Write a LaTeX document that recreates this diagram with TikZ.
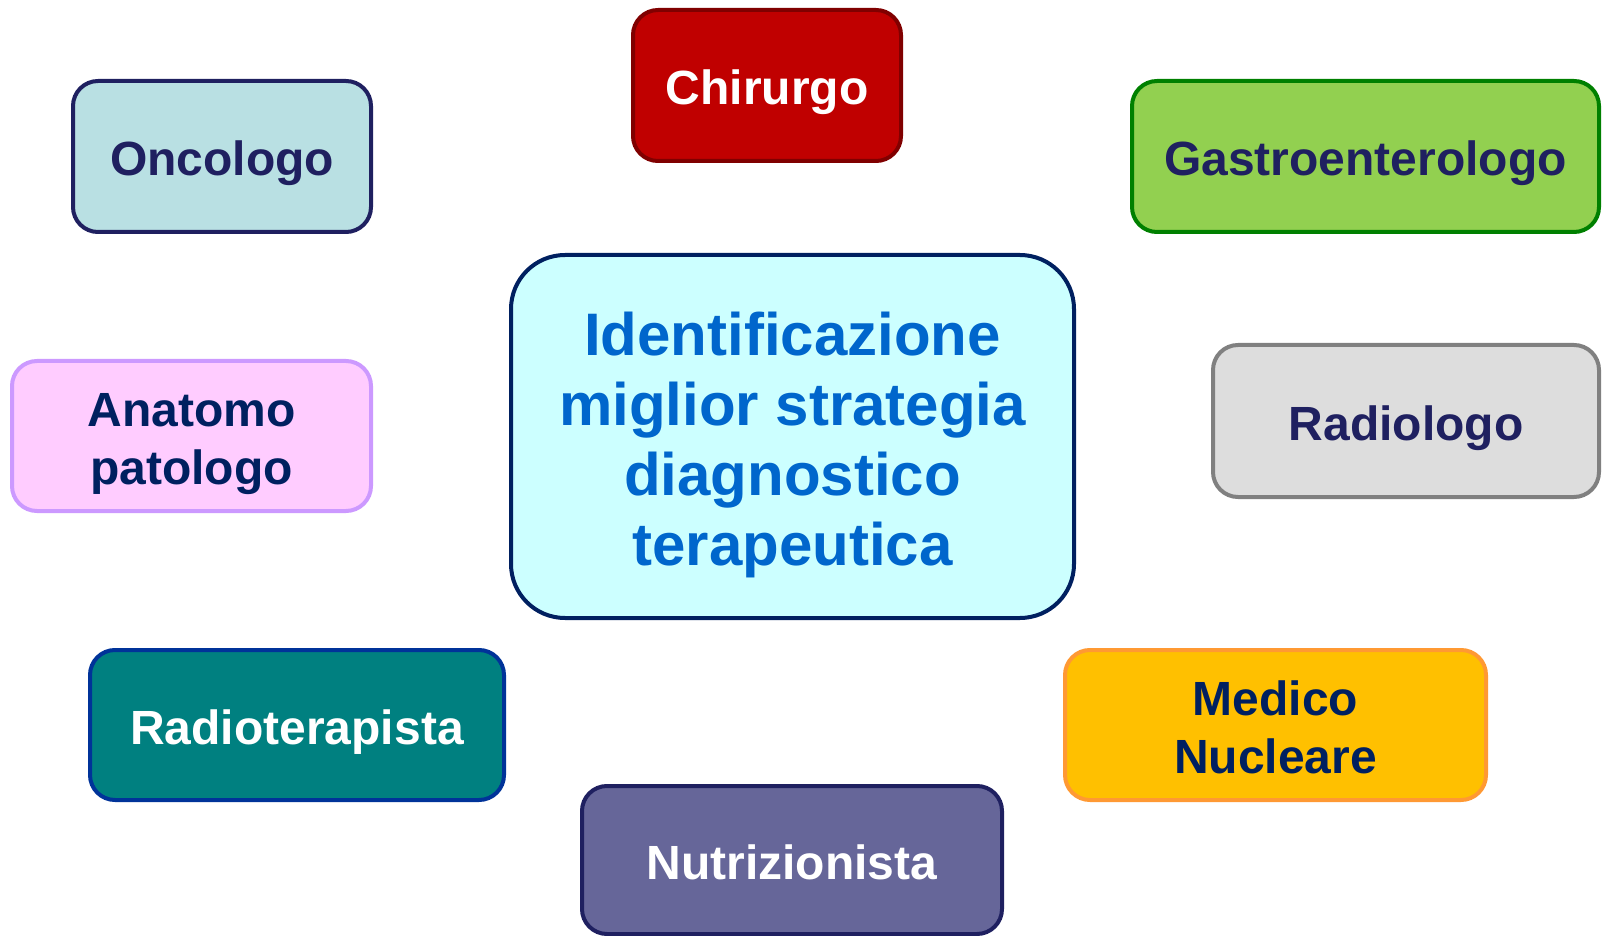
\documentclass[tikz,border=0pt]{standalone}
\usepackage{fontspec}
\setmainfont{Liberation Sans}
\definecolor{navy}{HTML}{1F2060}
\definecolor{darknavy}{HTML}{002060}
\definecolor{centreblue}{HTML}{0066CC}
\definecolor{centrefill}{HTML}{CCFFFF}
\definecolor{chirfill}{HTML}{C00000}
\definecolor{chirline}{HTML}{800000}
\definecolor{oncofill}{HTML}{B9E0E3}
\definecolor{gastrofill}{HTML}{92D050}
\definecolor{gastroline}{HTML}{008000}
\definecolor{anatfill}{HTML}{FFCCFF}
\definecolor{anatline}{HTML}{CC99FF}
\definecolor{radiofill}{HTML}{DDDDDD}
\definecolor{radioline}{HTML}{808080}
\definecolor{terafill}{HTML}{008080}
\definecolor{teraline}{HTML}{003399}
\definecolor{nuclfill}{HTML}{FFC000}
\definecolor{nuclline}{HTML}{FF9933}
\definecolor{nutrfill}{HTML}{666699}
\begin{document}
\begin{tikzpicture}[x=0.5pt, y=-0.5pt,
                every node/.style = {rounded corners=12.5pt, line width=2pt, inner sep=0pt,
                                     align=center, font=\bfseries\fontsize{24}{29}\selectfont,
                                     text height=19.4pt, text depth=0pt},
                role/.style 2 args = {draw=#1, fill=#2},
                twolines/.style = {text height=48.4pt},
                centrebox/.style = {draw=darknavy, fill=centrefill,
                                    rounded corners=27pt, text=centreblue,
                                    font=\bfseries\fontsize{30}{35}\selectfont,
                                    text height=128.9pt}
            ]
            \useasboundingbox (0,0) rectangle (1602,936);
            \node[centrebox, minimum width=281.5pt, minimum height=181.5pt] (centre) at (792.5,436.5)
                {Identificazione\\miglior strategia\\diagnostico\\terapeutica};
            \node[role={chirline}{chirfill}, text=white,
                  minimum width=134pt, minimum height=75.5pt] (chirurgo) at (767,85.5) {Chirurgo};
            \node[role={navy}{oncofill}, text=navy,
                  minimum width=149pt, minimum height=75.5pt] (oncologo) at (222,156.5) {Oncologo};
            \node[role={gastroline}{gastrofill}, text=navy,
                  minimum width=233.5pt, minimum height=75.5pt] (gastro) at (1365.5,156.5) {Gastroenterologo};
            \node[role={anatline}{anatfill}, text=darknavy, twolines,
                  minimum width=179.5pt, minimum height=75pt] (anatomo) at (191.5,436) {Anatomo\\patologo};
            \node[role={radioline}{radiofill}, text=navy,
                  minimum width=193pt, minimum height=76pt] (radiologo) at (1406,421) {Radiologo};
            \node[role={teraline}{terafill}, text=white,
                  minimum width=207pt, minimum height=75pt] (radioterapista) at (297,725) {Radioterapista};
            \node[role={nuclline}{nuclfill}, text=darknavy, twolines,
                  minimum width=210.5pt, minimum height=75pt] (nucleare) at (1275.5,725) {Medico\\Nucleare};
            \node[role={navy}{nutrfill}, text=white,
                  minimum width=210pt, minimum height=74pt] (nutrizionista) at (792,860) {Nutrizionista};
        \end{tikzpicture}
\end{document}
